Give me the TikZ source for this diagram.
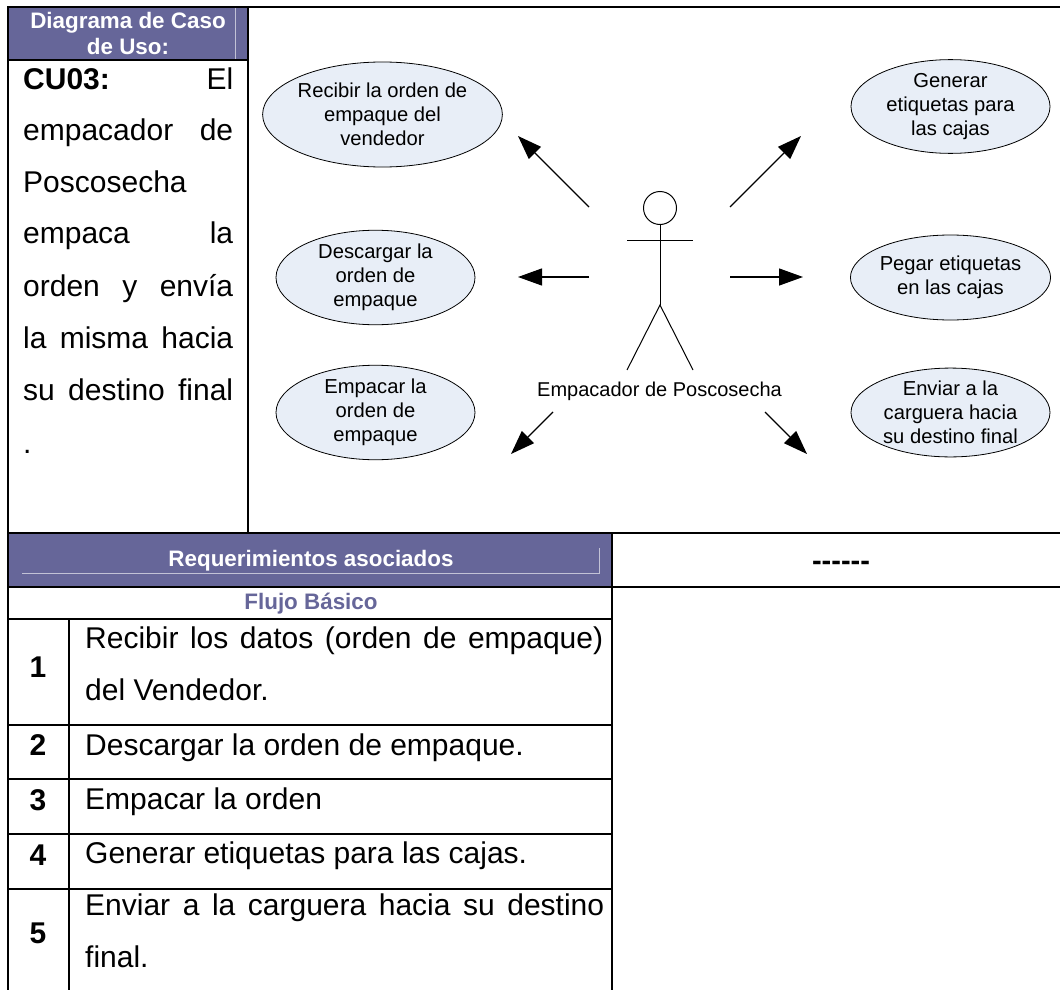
\documentclass[tikz,border=0pt]{standalone}
\usepackage{fontspec}
\setmainfont{Liberation Sans}
\usetikzlibrary{shapes.geometric,arrows.meta}
\definecolor{band}{HTML}{666699}
\definecolor{ellfill}{HTML}{E8EEF7}
\newcommand{\fitline}[2]{\makebox[#1pt][s]{#2}}
\tikzset{
 grid/.style={line width=2pt,black},
 thin grid/.style={line width=1.2pt,black},
 uc/.style={ellipse,draw,line width=0.8pt,fill=ellfill,inner sep=0pt,align=center,font=\fontsize{20.2}{24}\selectfont},
 uc small/.style={uc,minimum width=199pt,minimum height=85pt},
 arr/.style={line width=1.3pt,-{Triangle[length=24pt,width=17pt]}},
 fig/.style={line width=1pt},
 body/.style={anchor=base west,inner sep=0pt,font=\fontsize{30}{34}\selectfont},
 num/.style={anchor=center,inner sep=0pt,font=\fontsize{30}{34}\selectfont\bfseries},
 hdr/.style={inner sep=0pt,align=center,text=white,font=\fontsize{22.4}{26}\selectfont\bfseries},
}
\begin{document}
\begin{tikzpicture}[x=1pt,y=-1pt]
\useasboundingbox (0,0) rectangle (1060,990);
\fill[white] (0,0) rectangle (1060,990);
\fill[band] (8,7) rectangle (248,60);
\fill[band] (8,533) rectangle (612,587);
\draw[white!60!band,line width=.6pt] (235,8) -- (235,59);
\draw[white!60!band,line width=.6pt] (22,573) -- (599,573) -- (599,548);
\draw[grid] (1060,7) -- (8,7) -- (8,990);
\draw[grid] (8,60) -- (248,60);
\draw[grid] (248,7) -- (248,533);
\draw[grid] (8,533) -- (1060,533);
\draw[grid] (8,587) -- (1060,587);
\draw[thin grid] (612,533) -- (612,990);
\draw[thin grid] (8,619) -- (612,619);
\draw[thin grid] (8,725) -- (612,725);
\draw[grid] (8,779) -- (612,779);
\draw[grid] (8,834) -- (612,834);
\draw[grid] (8,889) -- (612,889);
\draw[grid] (69,619) -- (69,990);
\node[hdr] (h1) at (128,33.5) {Diagrama de Caso\\de Uso:};
\node[hdr] (h2) at (311,561) {Requerimientos asociados};
\node[anchor=base,inner sep=0pt,font=\fontsize{29}{32}\selectfont\bfseries] (h3) at (841,570) {-{}-{}-{}-{}-{}-};
\node[inner sep=0pt,text=band,font=\fontsize{22.4}{26}\selectfont\bfseries] (h4) at (311,604) {Flujo Básico};
% left text
\node[body] (t1) at (23,89) {\fitline{210}{\textbf{CU03:} El}};
\node[body] (t2) at (23,140) {\fitline{210}{empacador de}};
\node[body] (t3) at (23,192) {Poscosecha};
\node[body] (t4) at (23,243) {\fitline{210}{empaca la}};
\node[body] (t5) at (23,296) {\fitline{210}{orden y envía}};
\node[body] (t6) at (23,348) {\fitline{210}{la misma hacia}};
\node[body] (t7) at (23,400) {\fitline{210}{su destino final}};
\node[body] (t8) at (23,453) {.};
% flow
\node[num] (n1) at (38,667) {1};
\node[num] (n2) at (38,745) {2};
\node[num] (n3) at (38,800) {3};
\node[num] (n4) at (38,855) {4};
\node[num] (n5) at (38,933) {5};
\node[body] (f1a) at (85,648) {\fitline{518}{Recibir los datos (orden de empaque)}};
\node[body] (f1b) at (85,700) {del Vendedor.};
\node[body] (f2) at (85,755) {Descargar la orden de empaque.};
\node[body] (f3) at (85,809) {Empacar la orden};
\node[body] (f4) at (85,863) {Generar etiquetas para las cajas.};
\node[body] (f5a) at (85,915) {\fitline{519}{Enviar a la carguera hacia su destino}};
\node[body] (f5b) at (85,967) {final.};
% use cases
\node[uc,minimum width=227pt,minimum height=105pt] (u1) at (382.5,114.5) {Recibir la orden de\\empaque del\\vendedor};
\node[uc small] (u2) at (375.5,277.5) {Descargar la\\orden de\\empaque};
\node[uc small] (u3) at (375.5,412.5) {Empacar la\\orden de\\empaque};
\node[uc small] (u4) at (950.5,106.5) {Generar\\etiquetas para\\las cajas};
\node[uc small] (u5) at (950.5,277.5) {Pegar etiquetas\\en las cajas};
\node[uc small] (u6) at (950.5,412.5) {Enviar a la\\carguera hacia\\su destino final};
% actor
\node[circle,draw,line width=1pt,minimum size=33pt,inner sep=0pt] (head) at (660,208) {};
\coordinate (hip) at (660,305);
\coordinate (al) at (627,240.5);
\coordinate (ar) at (693,240.5);
\coordinate (fl) at (627,370);
\coordinate (fr) at (693,370);
\draw[fig] (head.south) -- (hip);
\draw[fig] (al) -- (ar);
\draw[fig] (fl) -- (hip) -- (fr);
\node[inner sep=0pt,font=\fontsize{20}{24}\selectfont] (actor) at (659.5,391) {Empacador de Poscosecha};
% arrows
\coordinate (a1) at (589,207); \coordinate (b1) at (518,136);
\coordinate (a2) at (589,277); \coordinate (b2) at (518,277);
\coordinate (a3) at (553,412); \coordinate (b3) at (511,454);
\coordinate (a4) at (730,207); \coordinate (b4) at (801,136);
\coordinate (a5) at (730,277); \coordinate (b5) at (803,277);
\coordinate (a6) at (765,412); \coordinate (b6) at (807,454);
\draw[arr] (a1) -- (b1);
\draw[arr] (a2) -- (b2);
\draw[arr] (a3) -- (b3);
\draw[arr] (a4) -- (b4);
\draw[arr] (a5) -- (b5);
\draw[arr] (a6) -- (b6);
\end{tikzpicture}
\end{document}
